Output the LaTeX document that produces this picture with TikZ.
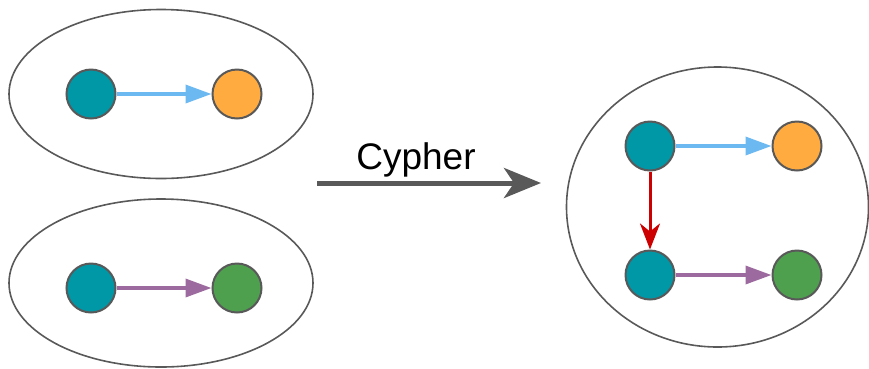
\documentclass[tikz,border=0pt]{standalone}
\usepackage{fontspec}
\setmainfont{Liberation Sans}
\usetikzlibrary{arrows.meta,shapes.geometric}
\definecolor{teal}{HTML}{0097A7}
\definecolor{orangec}{HTML}{FFAB40}
\definecolor{greenc}{HTML}{4EA04F}
\definecolor{bluearr}{HTML}{6CB8F0}
\definecolor{purplearr}{HTML}{9C6A9E}
\definecolor{redarr}{HTML}{CC0000}
\definecolor{outl}{HTML}{595959}
\tikzset{
  dot/.style={circle, draw=outl, line width=2pt, minimum size=49pt, inner sep=0pt},
  group/.style={ellipse, draw=outl, line width=1.6pt, inner sep=0pt},
  link/.style={line width=3.5pt, -{Triangle[length=26pt,width=18pt]}},
  redlink/.style={line width=3pt, redarr, -{Stealth[length=26pt,width=20pt,inset=8pt]}},
  bigarrow/.style={line width=5pt, outl, -{Stealth[length=37pt,width=30pt,inset=10pt]}}
}
\begin{document}
\begin{tikzpicture}[x=1pt,y=-1pt]
\useasboundingbox (0,0) rectangle (869,368);
% groups
\node[group, minimum width=304pt, minimum height=169pt] (g1) at (161,94) {};
\node[group, minimum width=304pt, minimum height=168pt] (g2) at (161,283) {};
\node[group, minimum width=302pt, minimum height=280pt] (g3) at (717.5,207) {};
% left top
\node[dot, fill=teal] (a1) at (91,94) {};
\node[dot, fill=orangec] (b1) at (237,94) {};
\draw[link, bluearr] (a1) -- (b1);
% left bottom
\node[dot, fill=teal] (a2) at (91,288) {};
\node[dot, fill=greenc] (c2) at (237,288) {};
\draw[link, purplearr] (a2) -- (c2);
% right
\node[dot, fill=teal] (r1) at (650,146) {};
\node[dot, fill=orangec] (r2) at (797,146) {};
\node[dot, fill=teal] (r3) at (650,275) {};
\node[dot, fill=greenc] (r4) at (797,275) {};
\draw[link, bluearr] (r1) -- (r2);
\draw[link, purplearr] (r3) -- (r4);
\draw[redlink] (r1) -- (r3);
% big arrow
\coordinate (s) at (317,183);
\coordinate (t) at (541,183);
\draw[bigarrow] (s) -- (t);
\node[font=\fontsize{37}{42}\selectfont, anchor=base] (lbl) at (416,169) {Cypher};
\end{tikzpicture}
\end{document}
